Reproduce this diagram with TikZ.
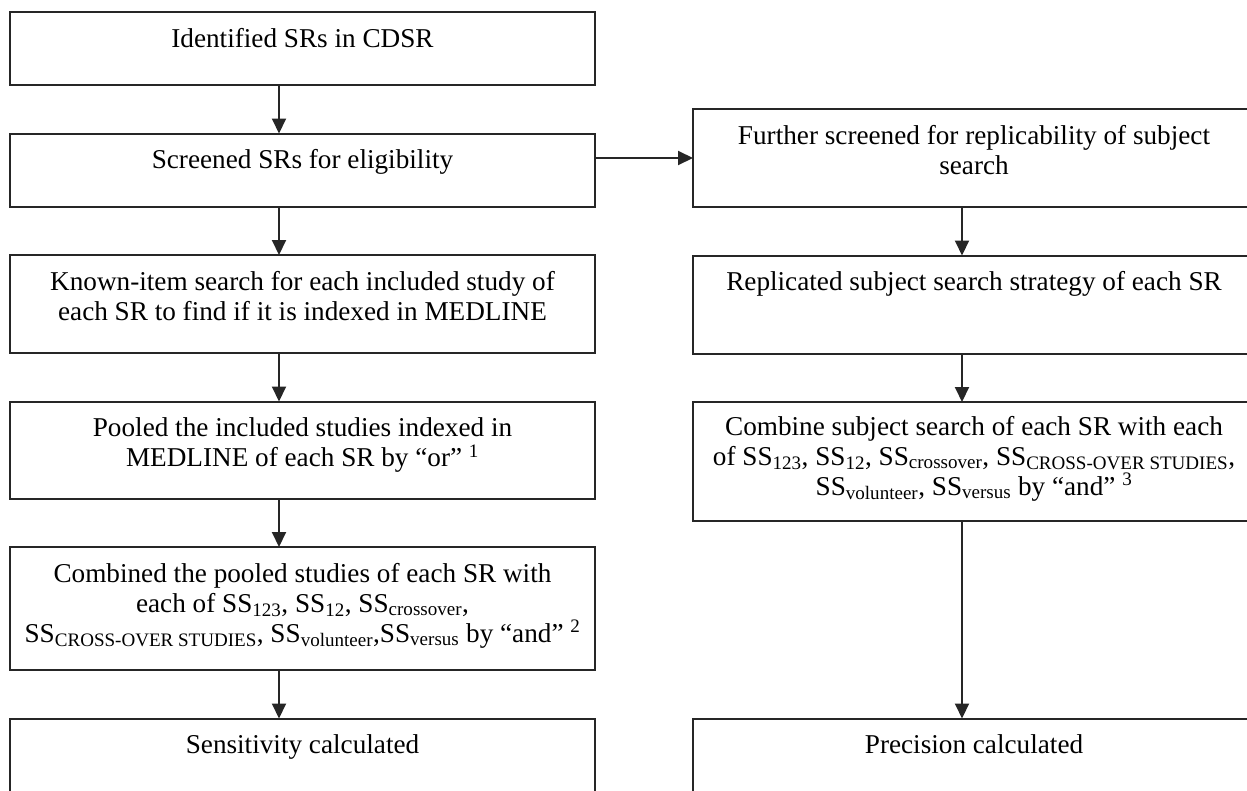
\documentclass[tikz,border=0pt]{standalone}
\usepackage{fontspec}
\setmainfont{Liberation Serif}
\usetikzlibrary{positioning, arrows.meta}

\begin{document}
\begin{tikzpicture}[
        x=1pt, y=1pt,
        node distance=48.5pt,
        font=\fontsize{27.2}{30}\selectfont,
        lbox/.style={rectangle, draw=black!85, line width=2pt, minimum width=585pt, inner sep=0pt, outer sep=0pt},
        rbox/.style={rectangle, draw=black!85, line width=2pt, minimum width=562pt, inner sep=0pt, outer sep=0pt},
        boxtext/.style={anchor=base, align=center, inner sep=0pt},
        arrow/.style={-{Triangle[length=15pt, width=14pt]}, line width=2pt, draw=black!85}
    ]
        \clip (0,0) rectangle (1247,-790);

        % Left column
        \node[lbox, minimum height=73pt, anchor=north west] (ident) at (10,-12) {};
        \node[lbox, minimum height=73pt, below=of ident] (screen) {};
        \node[lbox, minimum height=98pt, below=of screen] (known) {};
        \node[lbox, minimum height=97pt, below=of known] (pooled) {};
        \node[lbox, minimum height=123pt, below=of pooled] (combined) {};
        \node[lbox, minimum height=80pt, below=of combined] (sens) {};

        % Right column
        \node[rbox, minimum height=98pt, anchor=north west] (further) at (693,-109) {};
        \node[rbox, minimum height=98pt, below=of further] (replic) {};
        \node[rbox, minimum height=119pt, below=of replic] (combine) {};
        \node[rbox, minimum height=80pt, anchor=north west] (precision) at (combine.west |- sens.north) {};

        % Texts (base = last line)
        \node[boxtext] (identtext) at ([yshift=-35pt]ident.north) {Identified SRs in CDSR};
        \node[boxtext] (screentext) at ([yshift=-35pt]screen.north) {Screened SRs for eligibility};
        \node[boxtext] (knowntext) at ([yshift=-65pt]known.north) {Known-item search for each included study of\\each SR to find if it is indexed in MEDLINE};
        \node[boxtext] (pooledtext) at ([yshift=-65pt]pooled.north) {Pooled the included studies indexed in\\MEDLINE of each SR by “or” \textsuperscript{1}};
        \node[boxtext] (combinedtext) at ([yshift=-95pt]combined.north) {Combined the pooled studies of each SR with\\each of SS\textsubscript{123}, SS\textsubscript{12}, SS\textsubscript{crossover},\\SS\textsubscript{CROSS-OVER STUDIES}, SS\textsubscript{volunteer},SS\textsubscript{versus} by “and” \textsuperscript{2}};
        \node[boxtext] (senstext) at ([yshift=-35pt]sens.north) {Sensitivity calculated};
        \node[boxtext] (furthertext) at ([yshift=-65pt]further.north) {Further screened for replicability of subject\\search};
        \node[boxtext] (replictext) at ([yshift=-35pt]replic.north) {Replicated subject search strategy of each SR};
        \node[boxtext] (combinetext) at ([yshift=-93pt]combine.north) {Combine subject search of each SR with each\\of SS\textsubscript{123}, SS\textsubscript{12}, SS\textsubscript{crossover}, SS\textsubscript{CROSS-OVER STUDIES},\\SS\textsubscript{volunteer}, SS\textsubscript{versus} by “and” \textsuperscript{3}};
        \node[boxtext] (precisiontext) at ([yshift=-35pt]precision.north) {Precision calculated};

        % Connectors
        \draw[arrow] ([xshift=-23.5pt]ident.south) -- ([xshift=-23.5pt]screen.north);
        \draw[arrow] ([xshift=-23.5pt]screen.south) -- ([xshift=-23.5pt]known.north);
        \draw[arrow] ([xshift=-23.5pt]known.south) -- ([xshift=-23.5pt]pooled.north);
        \draw[arrow] ([xshift=-23.5pt]pooled.south) -- ([xshift=-23.5pt]combined.north);
        \draw[arrow] ([xshift=-23.5pt]combined.south) -- ([xshift=-23.5pt]sens.north);
        \draw[arrow] (screen.east |- further.west) -- (further.west);
        \draw[arrow] ([xshift=-12pt]further.south) -- ([xshift=-12pt]replic.north);
        \draw[arrow] ([xshift=-12pt]replic.south) -- ([xshift=-12pt]combine.north);
        \draw[arrow] ([xshift=-12pt]combine.south) -- ([xshift=-12pt]precision.north);
    \end{tikzpicture}
\end{document}
